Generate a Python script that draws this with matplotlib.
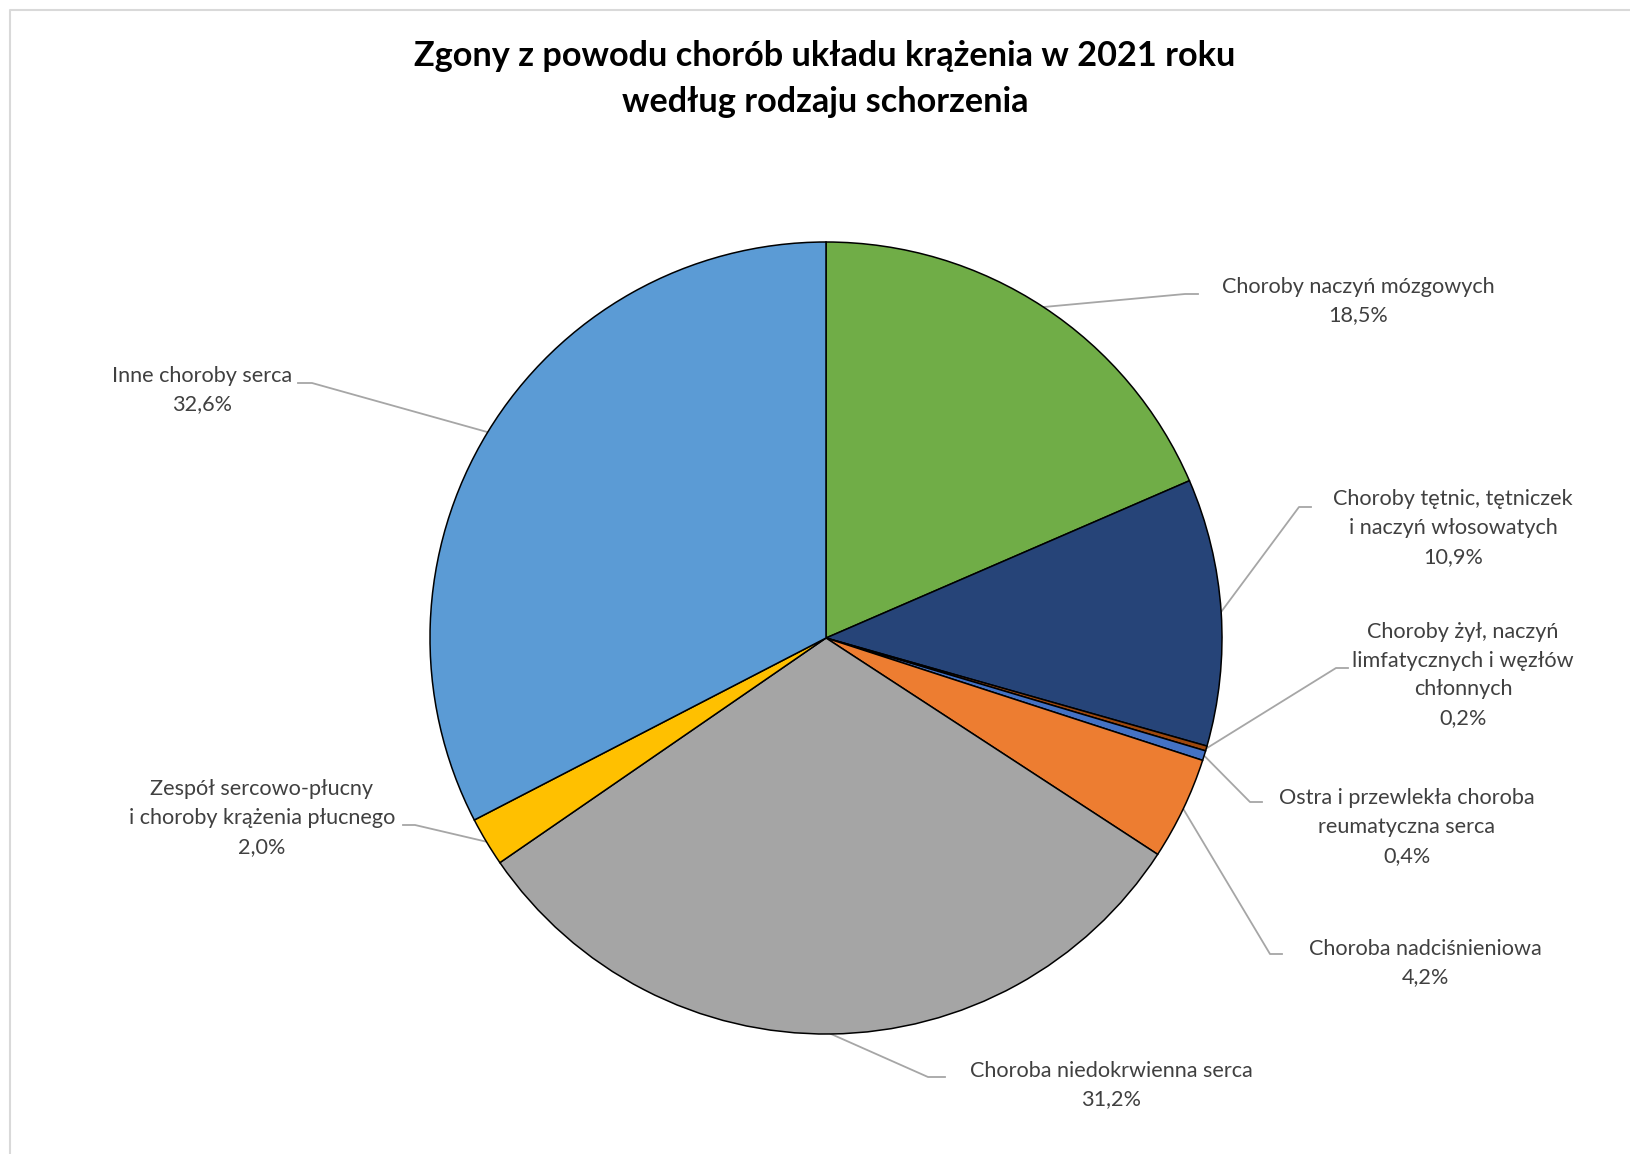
import numpy as np
import matplotlib
matplotlib.use("Agg")
import matplotlib.pyplot as plt

# ---- data ----
categories = [
    "Choroby naczyń mózgowych",
    "Choroby tętnic, tętniczek\ni naczyń włosowatych",
    "Choroby żył, naczyń\nlimfatycznych i węzłów\nchłonnych",
    "Ostra i przewlekła choroba\nreumatyczna serca",
    "Choroba nadciśnieniowa",
    "Choroba niedokrwienna serca",
    "Zespół sercowo-płucny\ni choroby krążenia płucnego",
    "Inne choroby serca",
]
values = [18.5, 10.9, 0.2, 0.4, 4.2, 31.2, 2.0, 32.6]
value_labels = ["18,5%", "10,9%", "0,2%", "0,4%", "4,2%", "31,2%", "2,0%", "32,6%"]
colors = ["#70AD47", "#264478", "#9E480E", "#4472C4", "#ED7D31", "#A5A5A5", "#FFC000", "#5B9BD5"]

# ---- layout (pixel coordinates, y from top) ----
W, H = 1630, 1154
cx, cy, R = 826, 638, 396
# label centre, elbow point, end of horizontal leader segment
label_pos = [(1358, 301), (1453, 528), (1463, 675), (1407, 827), (1425, 963), (1111, 1085), (262, 818), (202, 390)]
elbows = [(1185, 294), (1299, 507), (1336, 668), (1250, 802), (1270, 954), (928, 1077), (415, 825), (312, 383)]
ends = [(1198, 294), (1311, 507), (1348, 668), (1262, 802), (1282, 954), (945, 1077), (403, 825), (298, 383)]

def Y(y):
    return H - y

plt.rcParams['font.family'] = ['Lato', 'DejaVu Sans']
fig = plt.figure(figsize=(W / 100, H / 100), dpi=100)
ax = fig.add_axes([0, 0, 1, 1])
ax.set_xlim(0, W)
ax.set_ylim(0, H)
ax.set_aspect('equal')
ax.axis('off')

# frame
ax.plot([9.5, 9.5, W + 5], [-5, Y(10), Y(10)], color="#D9D9D9", lw=1.5, solid_capstyle='butt')

wedges, _ = ax.pie(values, colors=colors, startangle=90, counterclock=False,
                   center=(cx, Y(cy)), radius=R,
                   wedgeprops=dict(edgecolor="black", linewidth=1.1))
ax.set_xlim(0, W)
ax.set_ylim(0, H)

for w, cat, vl, lp, el, en in zip(wedges, categories, value_labels, label_pos, elbows, ends):
    ang = np.deg2rad((w.theta1 + w.theta2) / 2)
    sx = cx + R * np.cos(ang)
    sy = Y(cy) + R * np.sin(ang)
    ax.plot([sx, el[0], en[0]], [sy, Y(el[1]), Y(en[1])], color="#A6A6A6", lw=1.3, zorder=0.5)
    ax.text(lp[0], Y(lp[1]), cat + "\n" + vl, ha='center', va='center',
            fontsize=15.6, color="#404040", linespacing=1.55)

ax.text(825, Y(79), "Zgony z powodu chorób układu krążenia w 2021 roku\nwedług rodzaju schorzenia",
        ha='center', va='center', fontsize=24.7, fontweight='bold', color='black', linespacing=1.52)

fig.savefig("out.png", dpi=100)
